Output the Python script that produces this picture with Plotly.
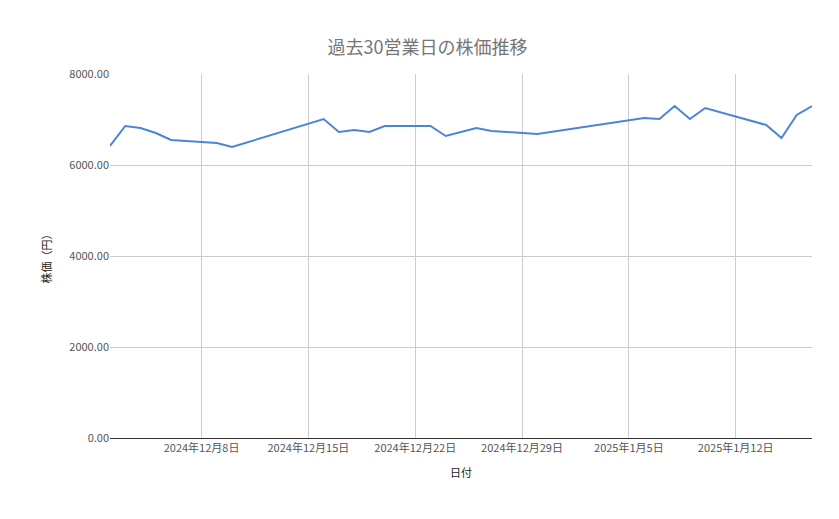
import plotly.graph_objects as go
import pandas as pd

dates = ["2024-12-02", "2024-12-03", "2024-12-04", "2024-12-05", "2024-12-06",
         "2024-12-09", "2024-12-10", "2024-12-16", "2024-12-17", "2024-12-18",
         "2024-12-19", "2024-12-20", "2024-12-23", "2024-12-24", "2024-12-26",
         "2024-12-27", "2024-12-30", "2025-01-06", "2025-01-07", "2025-01-08",
         "2025-01-09", "2025-01-10", "2025-01-14", "2025-01-15", "2025-01-16",
         "2025-01-17"]
prices = [6418, 6857, 6813, 6703, 6549, 6484, 6396, 7011, 6725, 6769,
          6725, 6857, 6857, 6637, 6813, 6747, 6681, 7033, 7011, 7297,
          7011, 7253, 6879, 6593, 7099, 7297]

tick_dates = ["2024-12-08", "2024-12-15", "2024-12-22", "2024-12-29", "2025-01-05", "2025-01-12"]
tick_labels = ["2024年12月8日", "2024年12月15日", "2024年12月22日", "2024年12月29日",
               "2025年1月5日", "2025年1月12日"]

fig = go.Figure(go.Scatter(x=pd.to_datetime(dates), y=prices, mode="lines",
                           line=dict(color="#4a86d8", width=2)))

fig.update_layout(
    width=839, height=519,
    margin=dict(l=102, r=35, t=66, b=89),
    paper_bgcolor="white", plot_bgcolor="white",
    font=dict(family="Noto Sans CJK JP, Roboto, sans-serif", size=11, color="#555"),
    title=dict(text="過去30営業日の株価推移", x=0.5, xanchor="center", y=0.935,
               font=dict(size=18, color="#757575")),
    showlegend=False,
)
fig.update_xaxes(range=["2024-12-02", "2025-01-17"], tickvals=pd.to_datetime(tick_dates),
                 ticktext=tick_labels, showgrid=True, gridcolor="#cccccc",
                 showline=True, linecolor="#333", ticks="",
                 title=dict(text="日付", font=dict(size=11, color="#222")))
fig.update_yaxes(range=[0, 8000], tickvals=[0, 2000, 4000, 6000, 8000], tickformat=".2f",
                 showgrid=True, gridcolor="#cccccc", zeroline=False, ticks="",
                 title=dict(text="株価（円）", font=dict(size=11, color="#222")))

fig.write_html("out.html")
